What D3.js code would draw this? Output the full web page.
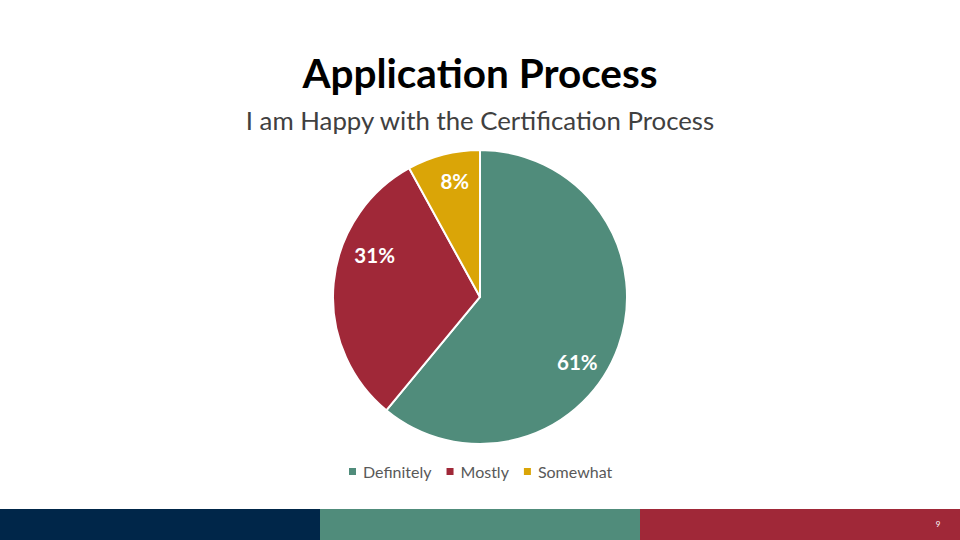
<!DOCTYPE html>
<html><head><meta charset="utf-8">
<script src="https://cdn.jsdelivr.net/npm/d3@7"></script>
<style>body{margin:0;background:#fff}svg{display:block}</style>
</head><body>
<svg id="c" width="960" height="540"></svg>
<script>
const categories = ["Definitely", "Mostly", "Somewhat"];
const values = [61, 31, 8];
const labels = ["61%", "31%", "8%"];
const colors = ["#508C7B", "#A02838", "#DAA507"];
const title = "Application Process";
const subtitle = "I am Happy with the Certification Process";
const footerColors = ["#002649", "#508C7B", "#A02838"];
const pageNumber = "9";

const svg = d3.select("#c");
const font = "Lato, 'Open Sans', sans-serif";

svg.append("text").attr("x", 480).attr("y", 88).attr("text-anchor", "middle")
  .attr("font-family", font).attr("font-weight", 700).attr("font-size", 40.5)
  .attr("fill", "#000").text(title);
svg.append("text").attr("x", 480).attr("y", 130).attr("text-anchor", "middle")
  .attr("font-family", font).attr("font-size", 25.8)
  .attr("fill", "#404040").text(subtitle);

const cx = 480, cy = 297, r = 147;
const pie = d3.pie().sort(null).value(d => d)(values);
const arc = d3.arc().innerRadius(0).outerRadius(r);
const g = svg.append("g").attr("transform", `translate(${cx},${cy})`);
g.selectAll("path").data(pie).join("path")
  .attr("d", arc).attr("fill", (d, i) => colors[i])
  .attr("stroke", "#fff").attr("stroke-width", 2);

// label placement (Excel best-fit like)
const nudge = [[0.25, 0.80], [0.28, 0.77], [0.035, 0.80]];
g.selectAll("text.lbl").data(pie).join("text").attr("class", "lbl")
  .attr("transform", (d, i) => {
    const a = (d.startAngle + d.endAngle) / 2 + nudge[i][0];
    const rr = r * nudge[i][1];
    return `translate(${Math.sin(a) * rr},${-Math.cos(a) * rr})`;
  })
  .attr("text-anchor", "middle").attr("dy", "0.35em")
  .attr("font-family", font).attr("font-weight", 700).attr("font-size", 20.5)
  .attr("fill", "#fff").text((d, i) => labels[i]);

// legend
const legend = svg.append("g");
let lx = 349;
categories.forEach((c, i) => {
  legend.append("rect").attr("x", lx).attr("y", 468).attr("width", 7).attr("height", 7).attr("fill", colors[i]);
  const t = legend.append("text").attr("x", lx + 14).attr("y", 472).attr("dy", "0.35em")
    .attr("font-family", font).attr("font-size", 16).attr("fill", "#595959").text(c);
  lx += 14 + t.node().getComputedTextLength() + 15;
});

// footer
const fx = d3.scaleBand().domain(d3.range(footerColors.length)).range([0, 960]);
svg.selectAll("rect.ft").data(footerColors).join("rect").attr("class", "ft")
  .attr("x", (d, i) => fx(i)).attr("y", 509).attr("width", fx.bandwidth() + 0.5).attr("height", 31)
  .attr("fill", d => d);
svg.append("text").attr("x", 938).attr("y", 524).attr("dy", "0.35em").attr("text-anchor", "middle")
  .attr("font-family", font).attr("font-size", 8).attr("fill", "#fff").text(pageNumber);
</script>
</body></html>
